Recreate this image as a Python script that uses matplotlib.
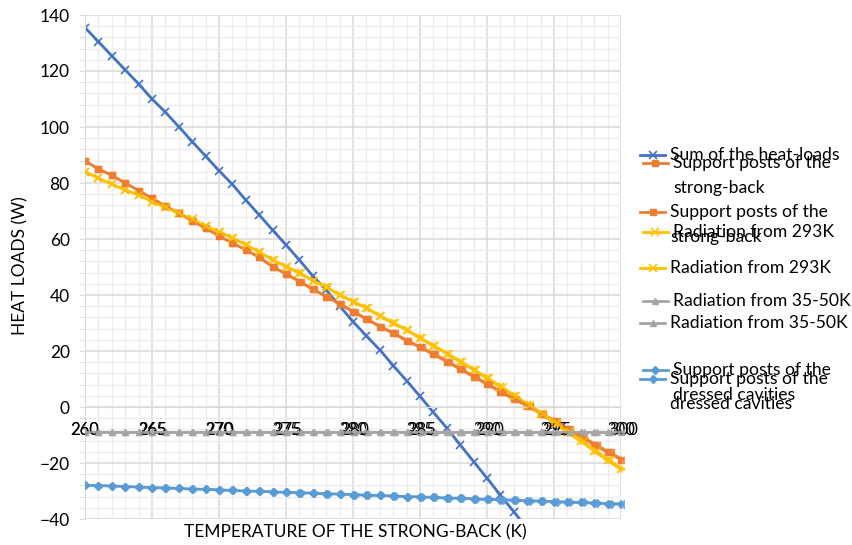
import matplotlib
matplotlib.use("Agg")
import matplotlib.pyplot as plt
from matplotlib.lines import Line2D
from matplotlib.ticker import MultipleLocator

plt.rcParams['font.family'] = ['Lato', 'DejaVu Sans']

# temperature of the strong-back (K)
temps = list(range(260, 301))
sum_temps = list(range(260, 294))

# heat loads (W)
sum_loads = [135.5, 130.5, 125.4, 120.4, 115.4, 110.0, 105.3, 100.1, 94.8, 89.6,
             84.4, 79.5, 73.9, 68.6, 63.2, 57.9, 52.5, 46.8, 41.8, 36.1,
             30.5, 25.4, 20.4, 14.8, 9.4, 3.8, -1.9, -7.5, -13.5, -19.5,
             -25.4, -31.5, -37.4, -43.4]
strongback = [87.9, 85.0, 82.7, 80.0, 77.3, 74.5, 71.8, 69.2, 66.5, 63.8,
              61.1, 58.5, 56.1, 53.4, 50.1, 47.5, 44.8, 42.0, 39.4, 36.8,
              34.0, 31.4, 28.7, 26.3, 23.7, 21.3, 18.8, 16.2, 13.5, 10.8,
              8.1, 5.4, 2.8, 0.4, -2.4, -5.1, -8.0, -10.6, -13.5, -16.2,
              -18.8]
rad_293 = [84.0, 81.7, 79.6, 77.5, 75.7, 73.3, 71.3, 69.2, 67.0, 64.6,
           62.6, 60.3, 57.9, 55.3, 52.5, 50.1, 47.8, 45.1, 42.8, 40.0,
           37.6, 35.3, 32.5, 29.9, 27.5, 24.5, 21.8, 19.0, 16.1, 13.2,
           10.2, 7.1, 4.0, 0.8, -2.4, -5.7, -9.0, -12.3, -15.7, -19.1,
           -22.3]
rad_35_50 = [-9.0] * 41
dressed = [-27.9, -28.1, -28.2, -28.4, -28.6, -28.8, -28.9, -29.1, -29.3, -29.4,
           -29.6, -29.8, -30.0, -30.1, -30.3, -30.5, -30.6, -30.8, -31.0, -31.1,
           -31.3, -31.5, -31.6, -31.8, -32.0, -32.1, -32.3, -32.5, -32.6, -32.8,
           -33.0, -33.1, -33.3, -33.5, -33.6, -33.8, -34.0, -34.1, -34.3, -34.5,
           -34.6]

BLUE = '#4472C4'
ORANGE = '#ED7D31'
YELLOW = '#FFC000'
GRAY = '#A5A5A5'
LBLUE = '#5B9BD5'

W, H = 853, 545


def fx(x):
    return x / W


def fy(y):
    return 1 - y / H


fig = plt.figure(figsize=(W / 100, H / 100), dpi=100)
left, right, top, bottom = 85, 621, 15, 519
ax = fig.add_axes([fx(left), fy(bottom), fx(right - left), (bottom - top) / H])
# second, slightly shifted copy of the chart (the sheet has two stacked charts)
ax2 = fig.add_axes([fx(left), fy(bottom), fx(right - left + 3), (bottom - top) / H])

styles = [
    ('Support posts of the\nstrong-back', strongback, ORANGE, 's', 5, 1),
    ('Radiation from 293K', rad_293, YELLOW, 'x', 6, 1.2),
    ('Radiation from 35-50K', rad_35_50, GRAY, '^', 5, 1),
    ('Support posts of the\ndressed cavities', dressed, LBLUE, 'D', 4, 1),
]

ax.plot(sum_temps, sum_loads, color=BLUE, lw=2, marker='x', ms=6, mew=1.2)
for label, vals, c, m, ms, mew in styles:
    ax.plot(temps, vals, color=c, lw=2, marker=m, ms=ms, mew=mew)
    ax2.plot(temps, vals, color=c, lw=1.5, marker=m, ms=ms, mew=mew, alpha=0.8)

for a in (ax, ax2):
    a.set_xlim(260, 300)
    a.set_ylim(-40, 140)
    a.xaxis.set_major_locator(MultipleLocator(5))
    a.xaxis.set_minor_locator(MultipleLocator(1))
    a.yaxis.set_major_locator(MultipleLocator(20))
    a.yaxis.set_minor_locator(MultipleLocator(4))
    a.spines['top'].set_visible(False)
    a.spines['right'].set_visible(False)
    a.spines['bottom'].set_position(('data', 0))
    a.tick_params(axis='x', which='both', length=0, pad=11, labelsize=12)

ax.grid(True, which='major', color='#D9D9D9', lw=1.1)
ax.grid(True, which='minor', color='#EDEDED', lw=0.9)
ax.set_axisbelow(True)
ax.spines['left'].set_color('#D9D9D9')
ax.spines['bottom'].set_color('#D9D9D9')
ax.tick_params(axis='y', which='both', direction='out', length=4, color='#D9D9D9',
               pad=7, labelsize=12.5)

ax2.patch.set_visible(False)
ax2.spines['left'].set_visible(False)
ax2.spines['bottom'].set_visible(False)
ax2.tick_params(axis='y', which='both', left=False, labelleft=False)

fig.text(fx(355), fy(532), 'TEMPERATURE OF THE STRONG-BACK (K)', ha='center',
         va='center', fontsize=12.5)
fig.text(fx(20), fy(266), 'HEAT LOADS (W)', rotation=90, ha='center',
         va='center', fontsize=12.5)

# two overlapping legends, as in the original sheet
all_entries = [('Sum of the heat-loads', None, BLUE, 'x', 6, 1.2)] + styles


def legend_entry(x0, y, entry):
    label, _, c, m, ms, mew = entry
    fig.add_artist(Line2D([fx(x0), fx(x0 + 25)], [fy(y), fy(y)], color=c, lw=2,
                          transform=fig.transFigure))
    fig.add_artist(Line2D([fx(x0 + 12.5)], [fy(y)], color=c, marker=m, ms=ms,
                          mew=mew, transform=fig.transFigure))
    for i, line in enumerate(label.split('\n')):
        fig.text(fx(x0 + 30), fy(y + 25 * i), line, ha='left', va='center',
                 fontsize=12.6)


for entry, y in zip(styles, [163, 232, 301, 370]):
    legend_entry(643, y, entry)
for entry, y in zip(all_entries, [155, 212, 268, 323, 379]):
    legend_entry(640, y, entry)

fig.savefig('out.png', dpi=100)
